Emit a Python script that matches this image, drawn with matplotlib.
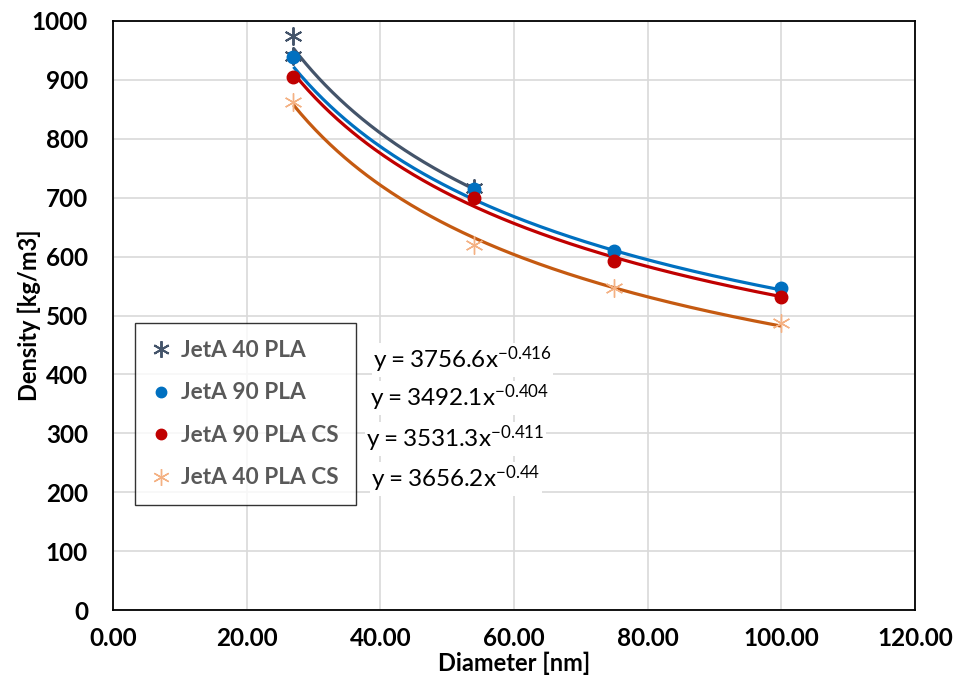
import numpy as np
import matplotlib
matplotlib.use("Agg")
import matplotlib.pyplot as plt
from matplotlib.lines import Line2D

plt.rcParams['font.family'] = ['Lato', 'DejaVu Sans']
plt.rcParams['mathtext.fontset'] = 'custom'
plt.rcParams['mathtext.rm'] = 'Lato'

# Measured densities per sample series
x_40pla = [27, 27, 54]
y_40pla = [974, 940, 716]

x_90pla = [27, 54, 75, 100]
y_90pla = [939, 714, 610, 546]

x_90placs = [27, 54, 75, 100]
y_90placs = [905, 700, 592, 532]

x_40placs = [27, 54, 75, 100]
y_40placs = [862, 620, 547, 487]

# Power-law fit coefficients: y = a * x^b
fit_a = [3756.6, 3492.1, 3531.3, 3656.2]
fit_b = [-0.416, -0.404, -0.411, -0.44]

labels = ["JetA 40 PLA", "JetA 90 PLA", "JetA 90 PLA CS", "JetA 40 PLA CS"]
x_ticks = [0, 20, 40, 60, 80, 100, 120]
y_ticks = [0, 100, 200, 300, 400, 500, 600, 700, 800, 900, 1000]

fig = plt.figure(figsize=(9.54, 6.81), dpi=100)
ax = fig.add_axes([113/954, 1 - 610/681, (915 - 113)/954, (610 - 21)/681])

star = (6, 2, 0)
series = [
    (x_40pla, y_40pla, star, '#44546A', '#44546A', 13, 1.4),
    (x_90pla, y_90pla, 'o', '#0070C0', '#0070C0', 9, 0),
    (x_90placs, y_90placs, 'o', '#C00000', '#C00000', 9, 0),
    (x_40placs, y_40placs, star, '#F4B183', '#C55A11', 13, 1.0),
]

handles = []
for i, (xs, ys, mk, mcol, lcol, ms, mew) in enumerate(series):
    xx = np.linspace(min(xs), max(xs), 200)
    ax.plot(xx, fit_a[i] * xx ** fit_b[i], color=lcol, lw=2.3, zorder=3 + i * 0.1,
            solid_capstyle='butt')
    if mk == 'o':
        ax.plot(xs, ys, ls='none', marker='o', ms=ms, color=mcol, mec=mcol, zorder=4 + i * 0.1)
        handles.append(Line2D([], [], ls='none', marker='o', ms=7.5, color=mcol))
    else:
        ax.plot(xs, ys, ls='none', marker=mk, ms=ms, mec=mcol, mew=mew, zorder=4 + i * 0.1)
        handles.append(Line2D([], [], ls='none', marker=mk, ms=12, mec=mcol, mew=mew))

ax.set_xlim(0, 120)
ax.set_ylim(0, 1000)
ax.set_xticks(x_ticks)
ax.set_yticks(y_ticks)
ax.set_xticklabels([f"{v:.2f}" for v in x_ticks])
ax.set_yticklabels([str(v) for v in y_ticks])
ax.tick_params(length=0, labelsize=17.5, pad=12)
ax.tick_params(axis='y', pad=18)
for lab in ax.get_xticklabels() + ax.get_yticklabels():
    lab.set_fontweight('bold')
ax.grid(True, color='#D9D9D9', lw=1.2)
ax.set_axisbelow(True)
for sp in ax.spines.values():
    sp.set_color('black')
    sp.set_linewidth(1.3)

ax.set_xlabel("Diameter [nm]", fontsize=17, fontweight='bold')
ax.set_ylabel("Density [kg/m3]", fontsize=17, fontweight='bold')
ax.xaxis.set_label_coords(0.5, -0.071)
ax.yaxis.set_label_coords(-0.09, 0.5)

leg = ax.legend(handles, labels, loc='upper left',
                bbox_to_anchor=((135 - 113) / 802, (610 - 323) / 589),
                frameon=True, fancybox=False, edgecolor='black',
                fontsize=16.3, labelspacing=0.95, handlelength=0.8,
                handletextpad=0.5, borderpad=0.75, borderaxespad=0)
leg.get_frame().set_linewidth(1.0)
for t in leg.get_texts():
    t.set_color('#595959')
    t.set_fontweight('bold')

eq_pos = [(373, 360), (370, 398), (366, 439), (371, 479)]
for (px, py), a, b in zip(eq_pos, fit_a, fit_b):
    txt = f"y = {a}x^{{{b}}}"
    fig.text(px / 954, 1 - py / 681, r"$\mathregular{" + txt + "}$",
             fontsize=17.5, va='center', ha='left', color='black',
             bbox=dict(facecolor='white', edgecolor='none', pad=1))

fig.savefig("out.png", dpi=100)
